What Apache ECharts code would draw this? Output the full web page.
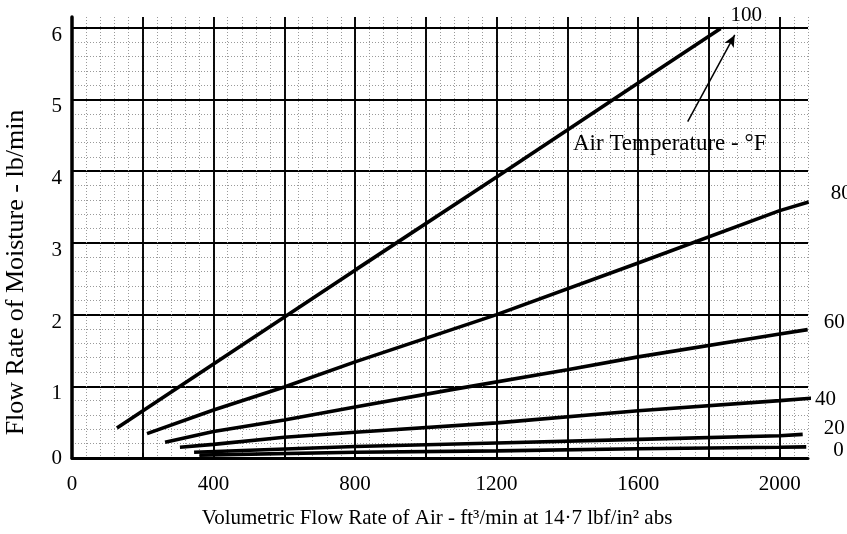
<!DOCTYPE html>
<html><head><meta charset="utf-8">
<script src="https://cdn.jsdelivr.net/npm/echarts@6/dist/echarts.min.js"></script>
<style>html,body{margin:0;padding:0;background:#fff}#c{width:847px;height:534px}</style>
</head><body><div id="c"></div>
<script>
// Air temperature (°F) curves: [volumetric flow ft3/min, moisture lb/min]
const temperatures = ['100', '80', '60', '40', '20', '0'];
const line100 = [[127,0.42],[400,1.31],[800,2.62],[1200,3.92],[1600,5.23],[1833,5.99]];
const line80  = [[212,0.34],[400,0.67],[600,0.99],[800,1.34],[1200,2.00],[1600,2.72],[2000,3.45],[2082,3.57]];
const line60  = [[263,0.22],[400,0.37],[600,0.53],[800,0.71],[1069,0.95],[1400,1.23],[1600,1.41],[2000,1.73],[2079,1.79]];
const line40  = [[305,0.15],[400,0.19],[600,0.29],[800,0.36],[1200,0.49],[1600,0.66],[2000,0.80],[2107,0.84]];
const line20  = [[345,0.08],[800,0.16],[1200,0.21],[1600,0.26],[2000,0.31],[2065,0.33]];
const line0   = [[360,0.04],[800,0.08],[1200,0.10],[1600,0.13],[2000,0.15],[2075,0.155]];
const xTickLabels = [0, 400, 800, 1200, 1600, 2000];
const yTickLabels = [0, 1, 2, 3, 4, 5, 6];
const arrowFrom = [1740, 4.69];
const arrowTo = [1873, 5.90];
const annotation = 'Air Temperature - °F';

const FONT = 'Liberation Serif';
const lines = [line100, line80, line60, line40, line20, line0];
const labelOffsets = [[2,-13],[14,-9],[8,-7],[-4,1],[13,-6],[19,4]];

const chart = echarts.init(document.getElementById('c'), null, {renderer: 'canvas'});
const series = lines.map((d, i) => {
  const s = {
    type: 'line', data: d, xAxisIndex: 1, yAxisIndex: 1,
    showSymbol: false, symbol: 'none', smooth: false, clip: false,
    lineStyle: {color: '#000', width: 3.6},
    endLabel: {show: true, formatter: temperatures[i], fontFamily: FONT, fontSize: 21,
      color: '#000', offset: labelOffsets[i]},
    z: 5, animation: false
  };
  if (i === 0) {
    s.markLine = {
      silent: true, symbol: ['none', 'arrow'], symbolSize: [8, 12],
      lineStyle: {color: '#000', width: 1.5, type: 'solid'},
      label: {show: false},
      data: [[{coord: arrowFrom}, {coord: arrowTo}]],
      animation: false
    };
  }
  return s;
});

chart.setOption({
  animation: false,
  backgroundColor: '#fff',
  grid: {left: 72, top: 17, right: 39, bottom: 76, containLabel: false, outerBoundsMode: 'none'},
  xAxis: [
    { type: 'value', min: 0, max: 2080, interval: 40, position: 'top',
      axisLine: {show: false}, axisTick: {show: false}, axisLabel: {show: false},
      splitLine: {show: true, lineStyle: {color: '#9a9a9a', width: 1, type: [1, 2]}} },
    { type: 'value', min: 0, max: 2080, interval: 200, position: 'bottom',
      name: 'Volumetric Flow Rate of Air - ft³/min at 14·7 lbf/in² abs',
      nameLocation: 'middle', nameGap: 50,
      nameTextStyle: {fontFamily: FONT, fontSize: 21, color: '#000', padding: [0, 6, 0, 0]},
      axisLine: {show: true, lineStyle: {color: '#000', width: 3}},
      axisTick: {show: true, inside: true, length: 5, lineStyle: {color: '#000', width: 2}},
      axisLabel: {fontFamily: FONT, fontSize: 21, color: '#000', margin: 16, showMaxLabel: false,
        formatter: v => xTickLabels.indexOf(v) >= 0 ? String(v) : ''},
      splitLine: {show: true, showMaxLine: false, lineStyle: {color: '#000', width: 1.9}} }
  ],
  yAxis: [
    { type: 'value', min: 0, max: 6.15, interval: 0.2, position: 'right',
      axisLine: {show: false}, axisTick: {show: false}, axisLabel: {show: false},
      splitLine: {show: true, showMaxLine: false, lineStyle: {color: '#9a9a9a', width: 1, type: [1, 2]}} },
    { type: 'value', min: 0, max: 6.15, interval: 1, position: 'left',
      name: 'Flow Rate of Moisture - lb/min', nameLocation: 'middle', nameGap: 43,
      nameTextStyle: {fontFamily: FONT, fontSize: 26, color: '#000', padding: [0, 70, 0, 0]},
      axisLine: {show: true, lineStyle: {color: '#000', width: 3.5}},
      axisTick: {show: true, inside: true, length: 5, lineStyle: {color: '#000', width: 2}},
      axisLabel: {fontFamily: FONT, fontSize: 21, color: '#000', margin: 10, verticalAlign: 'middle',
        showMaxLabel: false,
        formatter: v => yTickLabels.indexOf(v) >= 0 ? (v === 0 ? '{z|0}' : '{n|' + v + '}') : '',
        rich: {
          n: {fontFamily: FONT, fontSize: 21, color: '#000', padding: [15, 0, 0, 0]},
          z: {fontFamily: FONT, fontSize: 21, color: '#000'}
        }},
      splitLine: {show: true, showMaxLine: false, lineStyle: {color: '#000', width: 1.9}} }
  ],
  graphic: [
    { type: 'text', left: 573, top: 132, z: 10,
      style: {text: annotation, font: '23px "Liberation Serif"', fill: '#000'} }
  ],
  series: series
});
</script>
</body></html>
